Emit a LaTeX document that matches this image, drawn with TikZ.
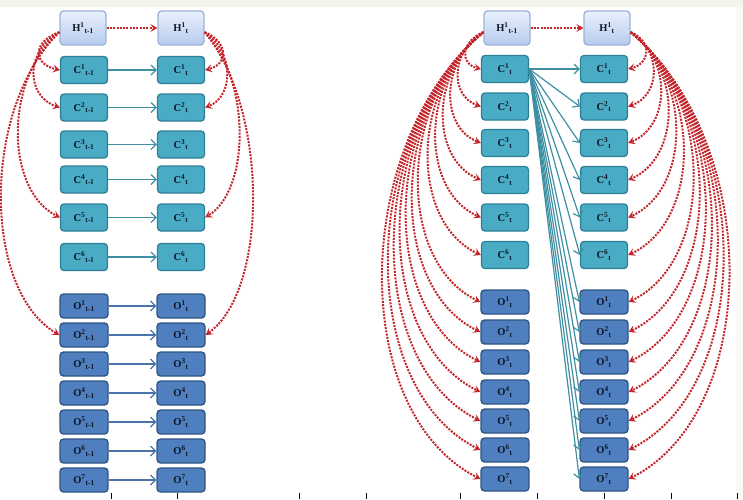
\documentclass[tikz,border=0pt]{standalone}
\usepackage{fontspec}
\setmainfont{Liberation Serif}
\usetikzlibrary{arrows.meta,calc}

\definecolor{hfillA}{HTML}{E9F0FC}
\definecolor{hfillB}{HTML}{B7CBEE}
\definecolor{hdraw}{HTML}{9DB2D8}
\definecolor{cfill}{HTML}{4AABC5}
\definecolor{cdraw}{HTML}{2D7F96}
\definecolor{ofill}{HTML}{4F7FBE}
\definecolor{odraw}{HTML}{2F5585}
\definecolor{linkred}{HTML}{C3252B}
\definecolor{cline}{HTML}{3F8FA3}
\definecolor{oline}{HTML}{4A73AA}
\definecolor{labelink}{HTML}{0E1524}
\definecolor{band}{HTML}{F2F5EA}

\tikzset{
  box/.style={rounded corners=3.5pt, line width=1.3pt, inner sep=0pt,
    font=\fontsize{10.5}{11}\selectfont\bfseries, text=labelink},
  hbox/.style={box, draw=hdraw, top color=hfillA, bottom color=hfillB,
    minimum width=46pt, minimum height=34pt},
  cbox/.style={box, draw=cdraw, fill=cfill, minimum width=47pt, minimum height=27pt},
  obox/.style={box, draw=odraw, fill=ofill, minimum width=48pt, minimum height=24pt},
  redarr/.style={draw=linkred, line width=2pt, dash pattern=on 2pt off 1.3pt,
    -{Stealth[length=7pt,width=8pt,inset=3pt]}},
  carr/.style={draw=cline, line width=1.2pt, -{Straight Barb[length=5pt,width=10pt]}},
  oarr/.style={draw=oline, line width=1.2pt, -{Straight Barb[length=5pt,width=10pt]}},
  tickmark/.style={line width=1pt, draw=black}
}

% dotted dependency curve bulging to the left (#3 + #4 * drop = bulge)
\newcommand\bendleft[4]{%
  \draw[redarr] let \p1=(#1), \p2=(#2), \n1={\y1-\y2}, \n2={#3+#4*\n1} in
    (\p1) .. controls ({\x1-\n2*1pt},{\y1-0.25*\n1*1pt})
              and ({\x2-\n2*1pt},{\y2+0.15*\n1*1pt}) .. (\p2);}
% the same, bulging to the right
\newcommand\bendright[4]{%
  \draw[redarr] let \p1=(#1), \p2=(#2), \n1={\y1-\y2}, \n2={#3+#4*\n1} in
    (\p1) .. controls ({\x1+\n2*1pt},{\y1-0.25*\n1*1pt})
              and ({\x2+\n2*1pt},{\y2+0.15*\n1*1pt}) .. (\p2);}

\begin{document}
\begin{tikzpicture}[x=1pt,y=-1pt]
\useasboundingbox (0,0) rectangle (743,499);
\fill[band] (0,0) rectangle (743,7);
\fill[band!50!white] (736,7) rectangle (743,499);

% ---------- first model ----------
\node[hbox] (lph) at (83,28) {H\textsuperscript{1}\textsubscript{t-1}};
\node[hbox] (lqh) at (181,28) {H\textsuperscript{1}\textsubscript{t}};
\draw[redarr] (lph.east) -- (lqh.west);

\foreach \k/\y in {1/70,2/107.5,3/144.5,4/179.5,5/217.5,6/257} {
  \node[cbox] (lpc\k) at (84,\y) {C\textsuperscript{\k}\textsubscript{t-1}};
  \node[cbox] (lqc\k) at (181,\y) {C\textsuperscript{\k}\textsubscript{t}};
  \draw[carr] (lpc\k.east) -- (lqc\k.west);
}
\foreach \k/\y in {1/306,2/335,3/364,4/393,5/422,6/451,7/480} {
  \node[obox] (lpo\k) at (84,\y) {O\textsuperscript{\k}\textsubscript{t-1}};
  \node[obox] (lqo\k) at (181,\y) {O\textsuperscript{\k}\textsubscript{t}};
  \draw[oarr] (lpo\k.east) -- (lqo\k.west);
}

\foreach \t in {lpc1,lpc2,lpc5,lpo2} { \bendleft{lph.190}{\t.west}{20}{0.19} }
\foreach \t in {lqc1,lqc2,lqc5,lqo2} { \bendright{lqh.350}{\t.east}{18}{0.15} }

% ---------- second model ----------
\node[hbox] (rph) at (507,28) {H\textsuperscript{1}\textsubscript{t-1}};
\node[hbox] (rqh) at (607,28) {H\textsuperscript{1}\textsubscript{t}};
\draw[redarr] (rph.east) -- (rqh.west);

\foreach \k/\y in {1/69,2/106.5,3/143,4/180,5/217.5,6/255} {
  \node[cbox] (rpc\k) at (505,\y) {C\textsuperscript{\k}\textsubscript{t}};
  \node[cbox] (rqc\k) at (604,\y) {C\textsuperscript{\k}\textsubscript{t}};
}
\foreach \k/\y in {1/302,2/332,3/362,4/392,5/421,6/450,7/479} {
  \node[obox] (rpo\k) at (505,\y) {O\textsuperscript{\k}\textsubscript{t}};
  \node[obox] (rqo\k) at (604,\y) {O\textsuperscript{\k}\textsubscript{t}};
}

\foreach \t in {rqc1,rqc2,rqc3,rqc4,rqc5,rqc6,rqo1,rqo2,rqo3,rqo4,rqo5,rqo6,rqo7}
  { \draw[carr] (rpc1.east) -- (\t.west); }

\foreach \t in {rpc1,rpc2,rpc3,rpc4,rpc5,rpc6,rpo1,rpo2,rpo3,rpo4,rpo5,rpo6,rpo7}
  { \bendleft{rph.190}{\t.west}{12}{0.27} }
\foreach \t in {rqc1,rqc2,rqc3,rqc4,rqc5,rqc6,rqo1,rqo2,rqo3,rqo4,rqo5,rqo6,rqo7}
  { \bendright{rqh.350}{\t.east}{12}{0.27} }

% axis ticks along the lower edge
\foreach \x in {111,177,299,366,460,537,604,671,737}
  { \draw[tickmark] (\x,493) -- (\x,499); }
\end{tikzpicture}
\end{document}
